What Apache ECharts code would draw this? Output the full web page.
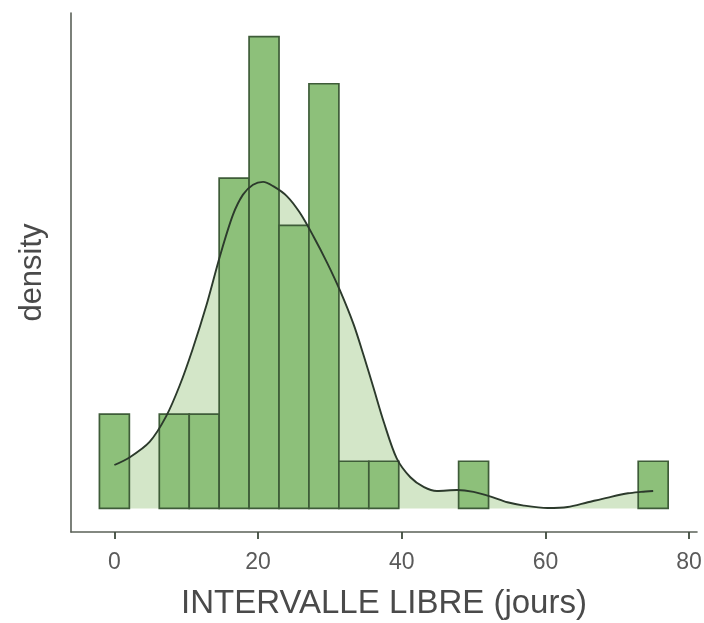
<!DOCTYPE html>
<html>
<head>
<meta charset="utf-8">
<script src="https://cdn.jsdelivr.net/npm/echarts@6/dist/echarts.min.js"></script>
<style>html,body{margin:0;padding:0;background:#fff}#c{width:704px;height:623px}</style>
</head>
<body>
<div id="c"></div>
<script>
// Histogram bins (centres, days) and counts
const binCenters = [0, 4.1667, 8.3333, 12.5, 16.6667, 20.8333, 25, 29.1667, 33.3333, 37.5, 41.6667, 45.8333, 50, 54.1667, 58.3333, 62.5, 66.6667, 70.8333, 75];
const binCounts  = [2, 0, 2, 2, 7, 10, 6, 9, 1, 1, 0, 0, 1, 0, 0, 0, 0, 0, 1];
const binWidth = 75 / 18;

// Density curve (x in days, y in count-equivalent units)
const densX = [0, 2.1, 4.9, 7.2, 9.1, 10.9, 12.8, 14.7, 16.5, 17.9, 19.3, 20.7, 22.1, 24.0, 25.8, 27.7, 29.6, 31.4, 33.3, 34.7, 36.1, 37.5, 39.3, 41.2, 43.1, 44.9, 47.7, 50.0, 52.4, 54.7, 57.0, 60.3, 63.1, 65.9, 68.7, 71.5, 73.3, 75.0];
const densY = [0.92, 1.08, 1.41, 1.95, 2.61, 3.38, 4.30, 5.35, 6.22, 6.65, 6.86, 6.92, 6.83, 6.62, 6.27, 5.77, 5.21, 4.62, 3.90, 3.24, 2.54, 1.83, 1.06, 0.66, 0.45, 0.37, 0.39, 0.35, 0.25, 0.13, 0.06, 0.01, 0.03, 0.13, 0.23, 0.32, 0.35, 0.37];

const xTicks = [0, 20, 40, 60, 80];

const histData = binCenters.map((c, i) => [c, binCounts[i]]).filter(d => d[1] > 0);
const densData = densX.map((x, i) => [x, densY[i]]);

const chart = echarts.init(document.getElementById('c'), null, {renderer: 'canvas'});
const axisColor = '#5b6158';
const font = 'Liberation Sans, Arial, sans-serif';
chart.setOption({
  animation: false,
  backgroundColor: '#ffffff',
  grid: {left: 71, right: 7, top: 13, bottom: 91, containLabel: false, outerBoundsMode: 'none'},
  xAxis: {
    type: 'value', min: -6.04, max: 81.1,
    splitLine: {show: false},
    axisLine: {show: true, onZero: false, lineStyle: {color: axisColor, width: 1.6}},
    axisTick: {show: true, customValues: xTicks, length: 7, lineStyle: {color: '#3e4a3c', width: 1.8}},
    axisLabel: {show: true, customValues: xTicks, color: '#5a5a5a', fontSize: 23, fontFamily: font, margin: 19},
    name: 'INTERVALLE LIBRE (jours)', nameLocation: 'middle', nameGap: 55,
    nameTextStyle: {color: '#4a4a4a', fontSize: 33, fontFamily: font}
  },
  yAxis: {
    type: 'value', min: -0.5, max: 10.5,
    splitLine: {show: false},
    axisLine: {show: true, onZero: false, lineStyle: {color: axisColor, width: 1.6}},
    axisTick: {show: false}, axisLabel: {show: false},
    name: 'density', nameLocation: 'middle', nameGap: 23,
    nameTextStyle: {color: '#4a4a4a', fontSize: 31, fontFamily: font}
  },
  series: [
    {
      type: 'line', data: densData, smooth: 0.3, symbol: 'none', z: 1,
      lineStyle: {width: 0},
      areaStyle: {color: '#d3e6c8', opacity: 1, origin: 0},
      silent: true
    },
    {
      type: 'custom', z: 2,
      data: histData,
      renderItem: function (params, api) {
        const c = api.value(0), v = api.value(1);
        const p0 = api.coord([c - binWidth / 2, v]);
        const p1 = api.coord([c + binWidth / 2, 0]);
        return {
          type: 'rect',
          shape: {x: p0[0], y: p0[1], width: p1[0] - p0[0], height: p1[1] - p0[1]},
          style: {fill: '#8dc07a', stroke: '#3e5c38', lineWidth: 1.7}
        };
      }
    },
    {
      type: 'line', data: densData, smooth: 0.3, symbol: 'none', z: 3,
      lineStyle: {color: '#2c3a2c', width: 1.9},
      silent: true
    }
  ]
});
</script>
</body>
</html>
